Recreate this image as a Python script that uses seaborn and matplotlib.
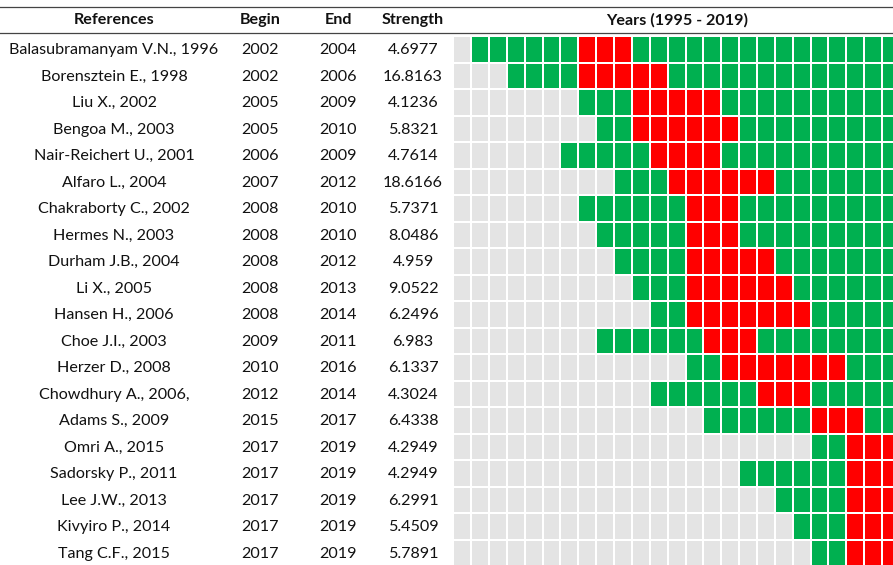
import numpy as np
import pandas as pd
import matplotlib
matplotlib.use("Agg")
import matplotlib.pyplot as plt
from matplotlib.colors import ListedColormap
import seaborn as sns

references = ["Balasubramanyam V.N., 1996", "Borensztein E., 1998", "Liu X., 2002",
              "Bengoa M., 2003", "Nair-Reichert U., 2001", "Alfaro L., 2004",
              "Chakraborty C., 2002", "Hermes N., 2003", "Durham J.B., 2004",
              "Li X., 2005", "Hansen H., 2006", "Choe J.I., 2003", "Herzer D., 2008",
              "Chowdhury A., 2006,", "Adams S., 2009", "Omri A., 2015",
              "Sadorsky P., 2011", "Lee J.W., 2013", "Kivyiro P., 2014", "Tang C.F., 2015"]
pub_years = [1996, 1998, 2002, 2003, 2001, 2004, 2002, 2003, 2004, 2005,
             2006, 2003, 2008, 2006, 2009, 2015, 2011, 2013, 2014, 2015]
begin = [2002, 2002, 2005, 2005, 2006, 2007, 2008, 2008, 2008, 2008,
         2008, 2009, 2010, 2012, 2015, 2017, 2017, 2017, 2017, 2017]
end = [2004, 2006, 2009, 2010, 2009, 2012, 2010, 2010, 2012, 2013,
       2014, 2011, 2016, 2014, 2017, 2019, 2019, 2019, 2019, 2019]
strength = [4.6977, 16.8163, 4.1236, 5.8321, 4.7614, 18.6166, 5.7371, 8.0486,
            4.959, 9.0522, 6.2496, 6.983, 6.1337, 4.3024, 6.4338, 4.2949,
            4.2949, 6.2991, 5.4509, 5.7891]
years = list(range(1995, 2020))

# state matrix: 0 = before publication, 1 = cited, 2 = burst
mat = np.zeros((len(references), len(years)))
for i in range(len(references)):
    for j, y in enumerate(years):
        if y >= pub_years[i]:
            mat[i, j] = 1
        if begin[i] <= y <= end[i]:
            mat[i, j] = 2
df = pd.DataFrame(mat, index=references, columns=years)

W, H = 893, 565
fig = plt.figure(figsize=(W / 100, H / 100), dpi=100)
plt.rcParams['font.family'] = ['Lato', 'DejaVu Sans']

# text / line layer in pixel coordinates
ax = fig.add_axes([0, 0, 1, 1])
ax.set_xlim(0, W)
ax.set_ylim(H, 0)
ax.axis('off')

ax.plot([0, W], [7, 7], color='#444444', lw=0.9)
ax.plot([0, W], [33, 33], color='#444444', lw=0.9)

fs = 11.6
col_x = [114, 260, 338, 413]
headers = ["References", "Begin", "End", "Strength"]
for x, h in zip(col_x, headers):
    ax.text(x, 20, h, ha='center', va='center', fontsize=fs, fontweight='bold', color='#111111')
ax.text(677, 20, "Years (1995 - 2019)", ha='center', va='center', fontsize=fs,
        fontweight='bold', color='#111111')

top0, pitch = 36.3, 26.5
for i in range(len(references)):
    yc = top0 + pitch * (i + 0.5) + 0.5
    vals = [references[i], str(begin[i]), str(end[i]), str(strength[i])]
    for x, v in zip(col_x, vals):
        ax.text(x, yc, v, ha='center', va='center', fontsize=fs, color='#111111')

# heatmap grid
gx0, gpitch = 453.2, 17.87
gw = gpitch * len(years)
gh = pitch * len(references)
hax = fig.add_axes([gx0 / W, 1 - (top0 + gh) / H, gw / W, gh / H])
cmap = ListedColormap(['#E4E4E4', '#00B050', '#FF0000'])
sns.heatmap(df, cmap=cmap, vmin=-0.5, vmax=2.5, cbar=False, linewidths=1.4,
            linecolor='white', xticklabels=False, yticklabels=False, ax=hax)
hax.set_xlabel('')
hax.set_ylabel('')

fig.savefig('out.png', dpi=100)
